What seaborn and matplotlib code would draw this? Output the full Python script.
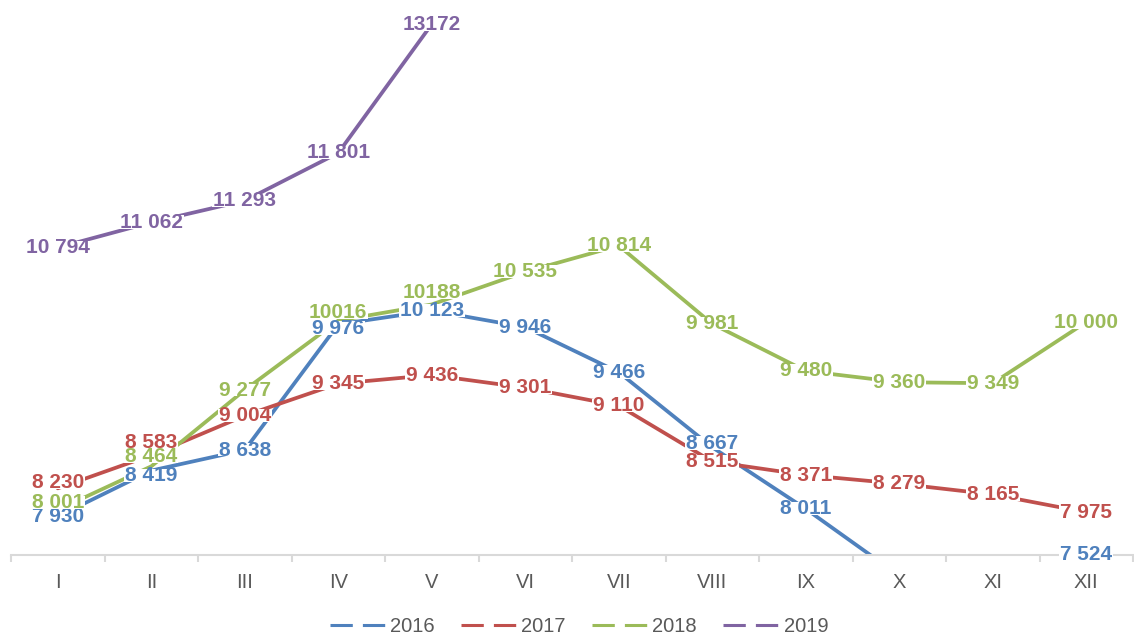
import numpy as np
import pandas as pd
import matplotlib
matplotlib.use('Agg')
import matplotlib.pyplot as plt
from matplotlib.lines import Line2D
from matplotlib.path import Path
import seaborn as sns

# Data
months = ['I', 'II', 'III', 'IV', 'V', 'VI', 'VII', 'VIII', 'IX', 'X', 'XI', 'XII']
years = ['2016', '2017', '2018', '2019']
v2016 = [7930, 8419, 8638, 9976, 10123, 9946, 9466, 8667, 8011, 7300, 7250, 7524]
v2017 = [8230, 8583, 9004, 9345, 9436, 9301, 9110, 8515, 8371, 8279, 8165, 7975]
v2018 = [8001, 8464, 9277, 10016, 10188, 10535, 10814, 9981, 9480, 9360, 9349, 10000]
v2019 = [10794, 11062, 11293, 11801, 13172]
# labels printed without the thousands space in the original
no_space = {10016, 10188, 13172}

colors = {'2016': '#4F81BD', '2017': '#C0504D', '2018': '#9BBB59', '2019': '#8064A2'}
series = {'2016': v2016, '2017': v2017, '2018': v2018, '2019': v2019}

# labels that were nudged by hand in the original (pixels, + = up)
label_shift = {('2016', 1): -5, ('2016', 3): -4, ('2016', 7): 4,
               ('2017', 0): 6, ('2017', 1): 13,
               ('2018', 0): 7, ('2018', 1): 10, ('2018', 3): 8, ('2018', 4): 12}

rows = []
for yr in years:
    for i, v in enumerate(series[yr]):
        rows.append({'year': yr, 'pos': i, 'month': months[i], 'value': v})
df = pd.DataFrame(rows)

sns.set_theme(style='white')
plt.rcParams['font.family'] = ['Liberation Sans', 'DejaVu Sans']

fig = plt.figure(figsize=(11.34, 6.34), dpi=100)
ax = fig.add_axes([11 / 1134, 79 / 634, 1122 / 1134, 555 / 634])

sns.lineplot(data=df, x='pos', y='value', hue='year', palette=colors,
             linewidth=2.7, sort=False, legend=False, ax=ax, zorder=2)

ymin, ymax = 7520, 13430
ax.set_xlim(-0.5, len(months) - 0.5)
ax.set_ylim(ymin, ymax)


def fmt(v):
    if v in no_space:
        return str(v)
    return f'{v:,}'.replace(',', ' ')


def tight_box(x0, y0, width, height, mutation_size):
    # white fill hugging the digits only (no ascent/descent padding)
    px = 0.05 * mutation_size
    b = y0 + 0.16 * height
    t = y0 + 0.87 * height
    l, r = x0 - px, x0 + width + px
    return Path([(l, b), (r, b), (r, t), (l, t), (l, b)], closed=True)


for yr in years:
    for i, v in enumerate(series[yr]):
        if v < ymin:
            continue
        dy = label_shift.get((yr, i), 0) * 0.72
        ax.annotate(fmt(v), (i, v), xytext=(0, dy), textcoords='offset points',
                    ha='center', va='center',
                    fontsize=15, fontweight='bold', color=colors[yr],
                    annotation_clip=False, zorder=5,
                    bbox=dict(boxstyle=tight_box, fc='white', ec='none'))

# axes styling
for s in ['left', 'right', 'top']:
    ax.spines[s].set_visible(False)
ax.spines['bottom'].set_color('#D9D9D9')
ax.spines['bottom'].set_linewidth(1.5)
ax.set_yticks([])
ax.set_xticks(range(len(months)))
ax.set_xticklabels(months)
ax.set_xticks(np.arange(-0.5, len(months), 1), minor=True)
ax.tick_params(axis='x', which='major', length=0, pad=13, labelsize=14.5, labelcolor='#595959')
ax.tick_params(axis='x', which='minor', length=5, width=1.5, color='#D9D9D9', direction='out', bottom=True)
ax.set_xlabel('')
ax.set_ylabel('')
ax.grid(False)

handles = [Line2D([0], [0], color=colors[yr], lw=2.2, linestyle=(0, (7.3, 3.3)),
                  solid_capstyle='butt', dash_capstyle='butt') for yr in years]
fig.legend(handles, years, loc='center', bbox_to_anchor=(0.5106, 0.012),
           ncol=4, frameon=False, fontsize=14.5, labelcolor='#595959',
           handlelength=2.85, handletextpad=0.15, columnspacing=1.3,
           borderpad=0.1)

fig.savefig('out.png', dpi=100)
